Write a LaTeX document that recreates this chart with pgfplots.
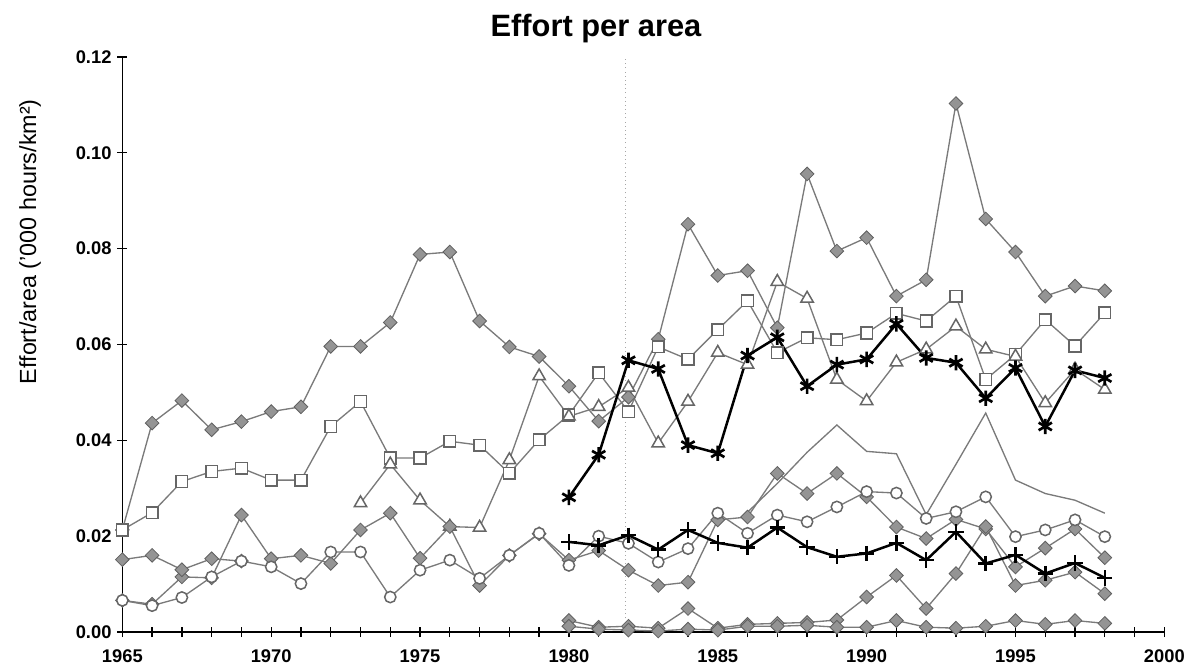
\documentclass[border=0pt]{standalone}
\usepackage{fontspec}
\setmainfont{Liberation Sans}
\usepackage{pgfplots}
\pgfplotsset{compat=1.18}
\pgfplotsset{
  gline/.style={black!52, line width=0.8pt},
  gdia/.style={gline, mark=square*, mark size=2.9pt, mark options={rotate=45, fill=black!42, draw=black!62, line width=0.5pt, solid}},
  gsq/.style={gline, mark=square*, mark size=3.5pt, mark options={fill=white, draw=black!60, line width=0.9pt, solid}},
  gtri/.style={gline, mark=triangle*, mark size=4.3pt, mark options={fill=white, draw=black!60, line width=0.9pt, solid}},
  gcirc/.style={gline, mark=*, mark size=3.4pt, mark options={fill=white, draw=black!60, line width=0.9pt, solid}},
}
\begin{document}
\begin{tikzpicture}
\path[use as bounding box] (0,0) rectangle (713.4pt,402pt);
\begin{axis}[
  at={(73.4pt,22.8pt)}, anchor=south west,
  scale only axis, width=625.2pt, height=345pt,
  xmin=1965, xmax=2000, ymin=0, ymax=0.12,
  axis x line=bottom, axis y line=left,
  axis line style={-, line width=0.9pt},
  xtick={1965,1970,1975,1980,1985,1990,1995,2000},
  minor xtick={1966,1967,1968,1969,1971,1972,1973,1974,1976,1977,1978,1979,1981,1982,1983,1984,1986,1987,1988,1989,1991,1992,1993,1994,1996,1997,1998,1999},
  ytick={0,0.02,0.04,0.06,0.08,0.10,0.12},
  tick align=center, major tick length=6pt, minor tick length=6pt,
  tick style={black, line width=0.8pt},
  ticklabel style={font=\bfseries\fontsize{11}{13}\selectfont},
  /pgf/number format/assume math mode=true,
  xticklabel style={/pgf/number format/1000 sep={}, yshift=-4pt},
  yticklabel style={/pgf/number format/.cd, fixed, fixed zerofill, precision=2},
  clip=false,
]
% faint vertical dotted line
\addplot[black!35, dotted, line width=0.5pt, forget plot] coordinates {(1981.9,0.002) (1981.9,0.12)};

% A: dark diamonds, top
\addplot[gdia] coordinates {
(1965,0.0213)(1966,0.0436)(1967,0.0483)(1968,0.0422)(1969,0.0439)(1970,0.0460)(1971,0.0470)(1972,0.0596)(1973,0.0596)(1974,0.0646)(1975,0.0788)(1976,0.0793)(1977,0.0649)(1978,0.0595)(1979,0.0575)(1980,0.0513)(1981,0.0440)(1982,0.0490)(1983,0.0611)(1984,0.0851)(1985,0.0744)(1986,0.0754)(1987,0.0635)(1988,0.0956)(1989,0.0795)(1990,0.0823)(1991,0.0701)(1992,0.0735)(1993,0.1103)(1994,0.0862)(1995,0.0793)(1996,0.0701)(1997,0.0722)(1998,0.0712)};

% B: open squares
\addplot[gsq] coordinates {
(1965,0.0213)(1966,0.0249)(1967,0.0314)(1968,0.0335)(1969,0.0342)(1970,0.0317)(1971,0.0317)(1972,0.0429)(1973,0.0481)(1974,0.0363)(1975,0.0363)(1976,0.0398)(1977,0.0390)(1978,0.0331)(1979,0.0401)(1980,0.0453)(1981,0.0541)(1982,0.0460)(1983,0.0595)(1984,0.0569)(1985,0.0631)(1986,0.0691)(1987,0.0583)(1988,0.0614)(1989,0.0610)(1990,0.0624)(1991,0.0665)(1992,0.0649)(1993,0.0701)(1994,0.0527)(1995,0.0579)(1996,0.0652)(1997,0.0597)(1998,0.0666)};

% C: open triangles
\addplot[gtri] coordinates {
(1973,0.0269)(1974,0.0350)(1975,0.0275)(1976,0.0220)(1977,0.0218)(1978,0.0359)(1979,0.0534)(1980,0.0450)(1981,0.0470)(1982,0.0510)(1983,0.0394)(1984,0.0481)(1985,0.0583)(1986,0.0558)(1987,0.0731)(1988,0.0696)(1989,0.0527)(1990,0.0482)(1991,0.0563)(1992,0.0590)(1993,0.0638)(1994,0.0590)(1995,0.0575)(1996,0.0478)(1997,0.0548)(1998,0.0506)};

% L1: dark diamonds, low
\addplot[gdia] coordinates {
(1965,0.0066)(1966,0.0058)(1967,0.0115)(1968,0.0113)(1969,0.0244)(1970,0.0153)(1971,0.0160)(1972,0.0143)(1973,0.0213)(1974,0.0248)(1975,0.0154)(1976,0.0220)(1977,0.0097)(1978,0.0160)(1979,0.0205)(1980,0.0150)(1981,0.0170)(1982,0.0129)(1983,0.0097)(1984,0.0104)(1985,0.0234)(1986,0.0240)(1987,0.0331)(1988,0.0289)(1989,0.0331)(1990,0.0282)(1991,0.0219)(1992,0.0195)(1993,0.0235)(1994,0.0215)(1995,0.0136)(1996,0.0175)(1997,0.0215)(1998,0.0155)};

% L2: dark diamonds, 1965-1969
\addplot[gdia] coordinates {
(1965,0.0151)(1966,0.0160)(1967,0.0130)(1968,0.0153)(1969,0.0148)};

% E: open circles
\addplot[gcirc] coordinates {
(1965,0.0066)(1966,0.0055)(1967,0.0072)(1968,0.0115)(1969,0.0148)(1970,0.0136)(1971,0.0101)(1972,0.0167)(1973,0.0167)(1974,0.0073)(1975,0.0129)(1976,0.0150)(1977,0.0112)(1978,0.0160)(1979,0.0206)(1980,0.0139)(1981,0.0200)(1982,0.0185)(1983,0.0146)(1984,0.0174)(1985,0.0248)(1986,0.0206)(1987,0.0244)(1988,0.0230)(1989,0.0261)(1990,0.0293)(1991,0.0290)(1992,0.0237)(1993,0.0251)(1994,0.0282)(1995,0.0199)(1996,0.0213)(1997,0.0234)(1998,0.0199)};

% H: gray line, no markers
\addplot[gline] coordinates {
(1986,0.0250)(1987,0.0310)(1988,0.0375)(1989,0.0432)(1990,0.0377)(1991,0.0372)(1992,0.0245)(1993,0.0350)(1994,0.0457)(1995,0.0317)(1996,0.0289)(1997,0.0275)(1998,0.0248)};

% I: dark diamonds near zero, rising later
\addplot[gdia] coordinates {
(1980,0.0024)(1981,0.0010)(1982,0.0012)(1983,0.0008)(1984,0.0049)(1985,0.0008)(1986,0.0016)(1987,0.0018)(1988,0.0020)(1989,0.0025)(1990,0.0073)(1991,0.0118)(1992,0.0049)(1993,0.0122)(1994,0.0220)(1995,0.0097)(1996,0.0108)(1997,0.0125)(1998,0.0080)};

% J: dark diamonds near zero
\addplot[gdia] coordinates {
(1980,0.0012)(1981,0.0006)(1982,0.0004)(1983,0.0002)(1984,0.0006)(1985,0.0004)(1986,0.0012)(1987,0.0012)(1988,0.0014)(1989,0.0010)(1990,0.0010)(1991,0.0024)(1992,0.0010)(1993,0.0008)(1994,0.0012)(1995,0.0024)(1996,0.0016)(1997,0.0024)(1998,0.0018)};

% Bold +
\addplot[black, line width=1.5pt, mark=+, mark size=4.6pt, mark options={line width=1.5pt, solid}] coordinates {
(1980,0.0188)(1981,0.0181)(1982,0.0202)(1983,0.0172)(1984,0.0213)(1985,0.0186)(1986,0.0176)(1987,0.0218)(1988,0.0177)(1989,0.0157)(1990,0.0164)(1991,0.0186)(1992,0.0150)(1993,0.0209)(1994,0.0143)(1995,0.0161)(1996,0.0122)(1997,0.0144)(1998,0.0113)};

% Bold asterisk
\addplot[black, line width=1.5pt, mark=asterisk, mark size=4.6pt, mark options={line width=1.6pt, solid}] coordinates {
(1980,0.0281)(1981,0.0370)(1982,0.0567)(1983,0.0549)(1984,0.0390)(1985,0.0373)(1986,0.0577)(1987,0.0615)(1988,0.0513)(1989,0.0558)(1990,0.0569)(1991,0.0643)(1992,0.0572)(1993,0.0562)(1994,0.0488)(1995,0.0551)(1996,0.0429)(1997,0.0546)(1998,0.0530)};
\end{axis}
\node[anchor=base, font=\bfseries\fontsize{18.5}{22}\selectfont] at (357.6pt,379.8pt) {Effort per area};
\node[rotate=90, font=\fontsize{14}{16}\selectfont] at (18pt,257pt) {Effort/area ('000 hours/km²)};
\end{tikzpicture}
\end{document}
